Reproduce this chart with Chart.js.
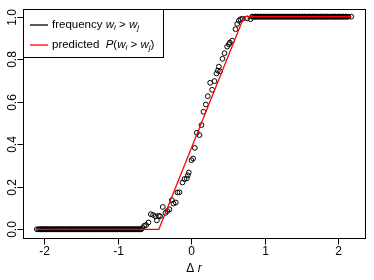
<!DOCTYPE html>
<html>
<head>
<meta charset="utf-8">
<script src="https://cdn.jsdelivr.net/npm/chart.js@4"></script>
<style>
  html, body { margin: 0; padding: 0; background: #fff; }
  #wrap { width: 374px; height: 280px; }
</style>
</head>
<body>
<div id="wrap"><canvas id="chart" width="374" height="280"></canvas></div>
<script>
// observed frequencies: flat at 0, the rising part, flat at 1
const zeroX = [-2.10, -2.08, -2.06, -2.05, -2.04, -2.02, -2.01, -2.00, -1.98, -1.97,
  -1.96, -1.94, -1.93, -1.92, -1.90, -1.89, -1.88, -1.86, -1.85, -1.83, -1.82, -1.81,
  -1.79, -1.78, -1.77, -1.75, -1.74, -1.73, -1.71, -1.70, -1.68, -1.67, -1.66, -1.64,
  -1.63, -1.62, -1.60, -1.59, -1.58, -1.56, -1.55, -1.53, -1.52, -1.51, -1.49, -1.48,
  -1.47, -1.45, -1.44, -1.43, -1.41, -1.40, -1.38, -1.37, -1.36, -1.34, -1.33, -1.32,
  -1.30, -1.29, -1.28, -1.26, -1.25, -1.23, -1.22, -1.21, -1.19, -1.18, -1.17, -1.15,
  -1.14, -1.13, -1.11, -1.10, -1.08, -1.07, -1.06, -1.04, -1.03, -1.02, -1.00, -0.99,
  -0.98, -0.96, -0.95, -0.93, -0.92, -0.91, -0.89, -0.88, -0.87, -0.85, -0.84, -0.83,
  -0.81, -0.80, -0.78, -0.77, -0.76, -0.74, -0.73, -0.72, -0.70, -0.69, -0.68];

const riseX = [-0.663, -0.640, -0.613, -0.582, -0.549, -0.518, -0.486, -0.467, -0.440,
  -0.422, -0.386, -0.350, -0.323, -0.295, -0.263, -0.241, -0.209, -0.186, -0.159,
  -0.118, -0.091, -0.059, -0.045, -0.032, 0.005, 0.027, 0.050, 0.077, 0.114, 0.141,
  0.168, 0.200, 0.227, 0.259, 0.286, 0.318, 0.345, 0.363, 0.377, 0.395, 0.427, 0.454,
  0.490, 0.514, 0.527, 0.559, 0.604, 0.627, 0.649, 0.672, 0.700, 0.763, 0.808];
const riseY = [0.006, 0.016, 0.020, 0.032, 0.071, 0.067, 0.061, 0.042, 0.064,
  0.061, 0.105, 0.077, 0.086, 0.094, 0.137, 0.121, 0.126, 0.173, 0.174,
  0.220, 0.236, 0.239, 0.254, 0.267, 0.325, 0.333, 0.383, 0.454, 0.443, 0.490,
  0.553, 0.587, 0.626, 0.689, 0.656, 0.697, 0.733, 0.746, 0.765, 0.743, 0.802, 0.828,
  0.859, 0.870, 0.878, 0.887, 0.941, 0.966, 0.981, 0.988, 0.990, 0.992, 0.988];

const oneX = [0.83, 0.84, 0.86, 0.87, 0.88, 0.90, 0.91, 0.92, 0.94, 0.95, 0.96, 0.98,
  0.99, 1.01, 1.02, 1.03, 1.05, 1.06, 1.07, 1.09, 1.10, 1.11, 1.13, 1.14, 1.16, 1.17,
  1.18, 1.20, 1.21, 1.22, 1.24, 1.25, 1.26, 1.28, 1.29, 1.31, 1.32, 1.33, 1.35, 1.36,
  1.37, 1.39, 1.40, 1.41, 1.43, 1.44, 1.46, 1.47, 1.48, 1.50, 1.51, 1.52, 1.54, 1.55,
  1.56, 1.58, 1.59, 1.61, 1.62, 1.63, 1.65, 1.66, 1.67, 1.69, 1.70, 1.71, 1.73, 1.74,
  1.76, 1.77, 1.78, 1.80, 1.81, 1.82, 1.84, 1.85, 1.86, 1.88, 1.89, 1.91, 1.92, 1.93,
  1.95, 1.96, 1.97, 1.99, 2.00, 2.01, 2.03, 2.04, 2.06, 2.07, 2.08, 2.10, 2.11, 2.12,
  2.14, 2.18];

// predicted probability (piecewise linear)
const predX = [-2.10, -0.44, 0.72, 2.18];
const predY = [0, 0, 1, 1];

const xTicks = [-2, -1, 0, 1, 2];
const yTicks = [0, 0.2, 0.4, 0.6, 0.8, 1.0];

const FONT = "'Liberation Sans', Arial, Helvetica, sans-serif";

const freqPoints = [
  ...zeroX.map(x => ({ x, y: 0 })),
  ...riseX.map((x, i) => ({ x, y: riseY[i] })),
  ...oneX.map(x => ({ x, y: 1 })),
];
const predPoints = predX.map((x, i) => ({ x, y: predY[i] }));

// draw a run of text pieces, some italic or subscript
function drawRuns(ctx, runs, x, y, size) {
  for (const r of runs) {
    const fs = r.sub ? size * 0.7 : size;
    ctx.font = (r.italic ? 'italic ' : '') + fs + 'px ' + FONT;
    ctx.fillText(r.t, x, y + (r.sub ? 3 : 0));
    x += ctx.measureText(r.t).width;
  }
}

const rAxes = {
  id: 'rAxes',
  afterDraw(chart) {
    const { ctx, chartArea: a, scales } = chart;
    const xs = scales.x, ys = scales.y;
    ctx.save();
    ctx.strokeStyle = '#000';
    ctx.fillStyle = '#000';
    ctx.lineWidth = 1;

    // box
    ctx.strokeRect(Math.round(a.left) + 0.5, Math.round(a.top) + 0.5,
      Math.round(a.right - a.left), Math.round(a.bottom - a.top));

    // x axis
    const yb = Math.round(a.bottom) + 0.5;
    ctx.font = '12px ' + FONT;
    ctx.textAlign = 'center';
    ctx.textBaseline = 'alphabetic';
    xTicks.forEach(v => {
      const px = Math.round(xs.getPixelForValue(v)) + 0.5;
      ctx.beginPath();
      ctx.moveTo(px, yb);
      ctx.lineTo(px, yb + 6);
      ctx.stroke();
      ctx.fillText(String(v), px, 255);
    });

    // y axis
    const xl = Math.round(a.left) + 0.5;
    yTicks.forEach(v => {
      const py = Math.round(ys.getPixelForValue(v)) + 0.5;
      ctx.beginPath();
      ctx.moveTo(xl, py);
      ctx.lineTo(xl - 6, py);
      ctx.stroke();
      ctx.save();
      ctx.translate(15.5, py);
      ctx.rotate(-Math.PI / 2);
      ctx.font = '12px ' + FONT;
      ctx.textAlign = 'center';
      ctx.fillText(v.toFixed(1), 0, 0);
      ctx.restore();
    });

    // x title
    ctx.textAlign = 'left';
    ctx.font = '12px ' + FONT;
    const w1 = ctx.measureText('\u0394 ').width;
    ctx.font = 'italic 12px ' + FONT;
    const w2 = ctx.measureText('r').width;
    const cx = (a.left + a.right) / 2 - (w1 + w2) / 2;
    drawRuns(ctx, [{ t: '\u0394 ' }, { t: 'r', italic: true }], cx, 272, 12);

    // legend
    ctx.fillStyle = '#fff';
    ctx.fillRect(a.left + 0.5, a.top + 0.5, 140, 48);
    ctx.strokeStyle = '#000';
    ctx.strokeRect(Math.round(a.left) + 0.5, Math.round(a.top) + 0.5, 140, 48);
    const rows = [
      { color: '#000000', y: 25, runs: [{ t: 'frequency ' }, { t: 'w', italic: true }, { t: 'i', italic: true, sub: true },
        { t: ' > ' }, { t: 'w', italic: true }, { t: 'j', italic: true, sub: true }] },
      { color: '#ff0000', y: 45, runs: [{ t: 'predicted  ' }, { t: 'P', italic: true }, { t: '(' },
        { t: 'w', italic: true }, { t: 'i', italic: true, sub: true }, { t: ' > ' },
        { t: 'w', italic: true }, { t: 'j', italic: true, sub: true }, { t: ')' }] },
    ];
    rows.forEach(r => {
      ctx.lineWidth = 1.3;
      ctx.strokeStyle = r.color;
      ctx.beginPath();
      ctx.moveTo(30, r.y);
      ctx.lineTo(48, r.y);
      ctx.stroke();
      ctx.fillStyle = '#000';
      ctx.textBaseline = 'middle';
      drawRuns(ctx, r.runs, 52, r.y, 11.5);
    });
    ctx.restore();
  }
};

new Chart(document.getElementById('chart'), {
  type: 'scatter',
  data: {
    datasets: [
      {
        label: 'predicted',
        data: predPoints,
        showLine: true,
        borderColor: '#ff0000',
        borderWidth: 1.2,
        pointRadius: 0,
        order: 0,
      },
      {
        label: 'frequency',
        data: freqPoints,
        pointStyle: 'circle',
        pointRadius: 2.4,
        borderColor: '#000',
        backgroundColor: 'rgba(0,0,0,0)',
        borderWidth: 1,
        order: 1,
      },
    ]
  },
  options: {
    responsive: false,
    animation: false,
    layout: { padding: { left: 23, right: 9, top: 9, bottom: 42 } },
    plugins: { legend: { display: false }, tooltip: { enabled: false } },
    scales: {
      x: { type: 'linear', min: -2.289, max: 2.367, display: false },
      y: { type: 'linear', min: -0.041, max: 1.036, display: false },
    }
  },
  plugins: [rAxes]
});
</script>
</body>
</html>
